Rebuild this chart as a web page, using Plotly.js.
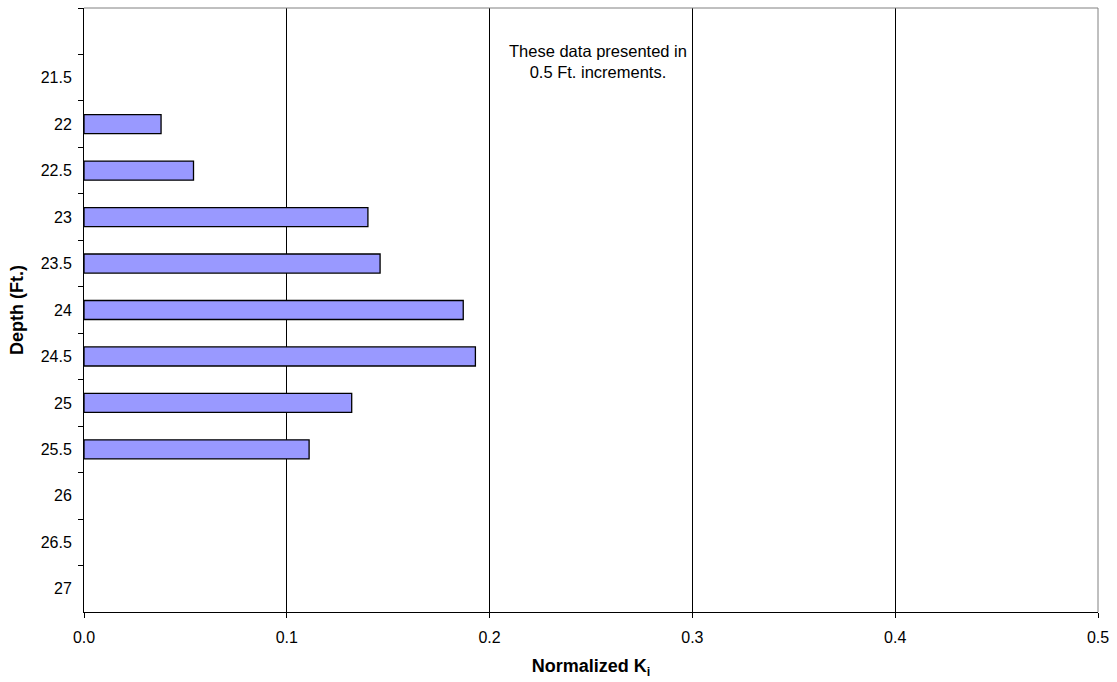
<!DOCTYPE html>
<html>
<head>
<meta charset="utf-8">
<script src="https://cdn.plot.ly/plotly-3.0.1.min.js"></script>
<style>html,body{margin:0;padding:0;background:#fff;}#chart{width:1117px;height:682px;}</style>
</head>
<body>
<div id="chart"></div>
<script>
const depths = [" ", "21.5", "22", "22.5", "23", "23.5", "24", "24.5", "25", "25.5", "26", "26.5", "27"];
const normalizedK = [null, null, 0.038, 0.054, 0.140, 0.146, 0.187, 0.193, 0.132, 0.111, null, null, null];
const xTicks = [0, 0.1, 0.2, 0.3, 0.4, 0.5];

const trace = {
  type: "bar",
  orientation: "h",
  y: depths,
  x: normalizedK,
  marker: {color: "#9999FF", line: {color: "#000000", width: 1.3}},
  hoverinfo: "x+y"
};

const layout = {
  width: 1117, height: 682,
  margin: {l: 84, r: 19, t: 8, b: 70},
  paper_bgcolor: "#fff", plot_bgcolor: "#fff",
  showlegend: false,
  bargap: 0.59,
  font: {family: "Liberation Sans, Arial, sans-serif", size: 16, color: "#000"},
  xaxis: {
    range: [0, 0.5],
    tickmode: "array", tickvals: xTicks, tickformat: ".1f",
    showgrid: true, gridcolor: "#000", gridwidth: 1,
    zeroline: false,
    showline: true, linecolor: "#000", linewidth: 1,
    ticks: "outside", ticklen: 5, tickcolor: "#000",
    ticklabelstandoff: 6,
    tickfont: {size: 16},
    title: {text: "<b>Normalized K<sub>i</sub></b>", font: {size: 18}, standoff: 14}
  },
  yaxis: {
    type: "category",
    categoryorder: "array", categoryarray: depths,
    autorange: "reversed",
    tickson: "boundaries",
    showgrid: false, zeroline: false,
    showline: true, linecolor: "#000", linewidth: 1,
    ticks: "outside", ticklen: 5, tickcolor: "#000",
    ticklabelstandoff: 8,
    tickfont: {size: 16},
    title: {text: "<b>Depth (Ft.)</b>", font: {size: 18}, standoff: 12}
  },
  shapes: [
    {type: "line", xref: "paper", yref: "paper", x0: 0, x1: 1, y0: 1, y1: 1, line: {color: "#808080", width: 1}, layer: "above"},
    {type: "line", xref: "paper", yref: "paper", x0: 1, x1: 1, y0: 0, y1: 1, line: {color: "#808080", width: 1}, layer: "above"}
  ],
  annotations: [{
    xref: "x", yref: "paper", x: 0.2535, y: 0.947, yanchor: "top",
    text: "These data presented in<br>0.5 Ft. increments.",
    showarrow: false, align: "center",
    font: {size: 16.5, color: "#000"}
  }]
};

Plotly.newPlot("chart", [trace], layout, {displayModeBar: false, staticPlot: true});
</script>
</body>
</html>
